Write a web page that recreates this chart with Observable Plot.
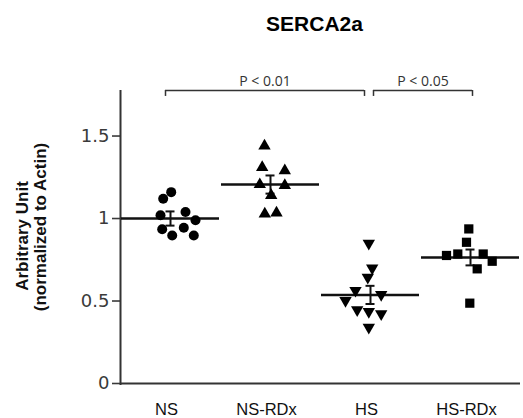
<!DOCTYPE html>
<html><head><meta charset="utf-8">
<script src="https://cdn.jsdelivr.net/npm/d3@7"></script>
<script src="https://cdn.jsdelivr.net/npm/@observablehq/plot@0.6"></script>
<style>html,body{margin:0;padding:0;background:#fff}</style>
</head><body><div id="chart"></div>
<script>
const title = "SERCA2a";
const yLabel1 = "Arbitrary Unit";
const yLabel2 = "(normalized to Actin)";
const groups = ["NS", "NS-RDx", "HS", "HS-RDx"];
const symbols = ["circle", "triangle", "triangle", "square"];
const nsValues = [1.16, 1.12, 1.02, 1.04, 0.99, 0.935, 0.944, 0.897, 0.897];
const nsJitter = [0.007, -0.073, -0.10, 0.15, 0.25, -0.083, 0.133, 0.017, 0.233];
const nsRdxValues = [1.44, 1.31, 1.29, 1.206, 1.20, 1.14, 1.028, 1.034];
const nsRdxJitter = [-0.06, -0.083, 0.143, -0.107, 0.143, 0.007, -0.057, 0.06];
const hsValues = [0.85, 0.70, 0.644, 0.564, 0.539, 0.503, 0.447, 0.436, 0.422, 0.341];
const hsJitter = [-0.017, 0.017, -0.027, -0.15, 0.107, -0.25, -0.133, -0.017, 0.107, -0.017];
const hsRdxValues = [0.937, 0.856, 0.776, 0.785, 0.785, 0.741, 0.695, 0.487];
const hsRdxJitter = [-0.017, -0.04, -0.24, -0.127, 0.127, 0.217, 0.067, -0.007];
const means = [1.0, 1.206, 0.537, 0.764];
const sems = [0.043, 0.055, 0.055, 0.048];
const yTicks = [0, 0.5, 1, 1.5];
const yTickLabels = ["0", "0.5", "1", "1.5"];
const pLeft = ["NS", "HS"];
const pRight = ["HS", "HS-RDx"];
const pText = ["P < 0.01", "P < 0.05"];
const yMax = 1.776;

const valueSets = [nsValues, nsRdxValues, hsValues, hsRdxValues];
const jitterSets = [nsJitter, nsRdxJitter, hsJitter, hsRdxJitter];
const points = [];
valueSets.forEach((vals, g) => vals.forEach((v, k) =>
  points.push({group: groups[g], gi: g + 1, x: g + 1 + jitterSets[g][k], y: v})));
const summary = groups.map((g, i) => ({group: g, gi: i + 1, mean: means[i], sem: sems[i]}));
const gIndex = name => groups.indexOf(name) + 1;
const brackets = pText.map((t, k) => ({
  text: t,
  x1: gIndex(pLeft[k]) + (k === 0 ? -0.05 : 0.03),
  x2: gIndex(pRight[k]) + (k === 0 ? -0.06 : 0.02),
  y: yMax
}));
const tickDrop = 0.036;
const ink = "#111";
const axisInk = "#333";

const dotMarks = groups.map((g, i) => Plot.dot(points.filter(d => d.group === g), {
  x: "x", y: "y",
  symbol: symbols[i],
  r: i === 0 ? 5 : i === 3 ? 5.2 : 4.6,
  rotate: g === "HS" ? 180 : 0,
  fill: "#000", stroke: "none"
}));

const chart = Plot.plot({
  width: 523, height: 418,
  marginLeft: 120, marginRight: 3, marginTop: 90, marginBottom: 35,
  x: {domain: [0.5, 4.5], axis: null},
  y: {domain: [0, yMax], axis: null},
  style: {background: "#fff", color: ink},
  marks: [
    Plot.axisY({ticks: yTicks, tickFormat: d => yTickLabels[yTicks.indexOf(d)],
      tickSize: 8, tickPadding: 3, fontSize: 18, fontFamily: "DejaVu Sans",
      color: "#3a3a3a", strokeWidth: 1.6, label: null}),
    Plot.axisX({ticks: [1, 2, 3, 4], tickFormat: d => groups[d - 1],
      tickSize: 0, tickPadding: 20, fontSize: 16.5, fontFamily: "Liberation Sans",
      color: ink, dx: -4, label: null}),
    Plot.ruleX([0.5], {y1: -0.012, y2: yMax, stroke: axisInk, strokeWidth: 2}),
    Plot.ruleY([0], {x1: 0.5, x2: 4.5, stroke: axisInk, strokeWidth: 2}),
    Plot.ruleY(summary, {y: "mean", x1: d => d.gi - 0.49, x2: d => d.gi + 0.49, stroke: ink, strokeWidth: 2.5}),
    Plot.ruleX(summary, {x: "gi", y1: d => d.mean - d.sem, y2: d => d.mean + d.sem, stroke: ink, strokeWidth: 2}),
    Plot.ruleY(summary, {y: d => d.mean + d.sem, x1: d => d.gi - 0.045, x2: d => d.gi + 0.045, stroke: ink, strokeWidth: 2}),
    Plot.ruleY(summary, {y: d => d.mean - d.sem, x1: d => d.gi - 0.045, x2: d => d.gi + 0.045, stroke: ink, strokeWidth: 2}),
    ...dotMarks,
    Plot.ruleY(brackets, {y: "y", x1: "x1", x2: "x2", stroke: axisInk, strokeWidth: 1.5}),
    Plot.ruleX(brackets, {x: "x1", y1: "y", y2: d => d.y - tickDrop, stroke: axisInk, strokeWidth: 1.5}),
    Plot.ruleX(brackets, {x: "x2", y1: "y", y2: d => d.y - tickDrop, stroke: axisInk, strokeWidth: 1.5}),
    Plot.text(brackets, {x: d => (d.x1 + d.x2) / 2, y: "y", text: "text", lineAnchor: "bottom", dy: -5,
      fontSize: 14, fontFamily: "Open Sans", fill: "#333"}),
    Plot.text([title], {frameAnchor: "top", lineAnchor: "bottom", dy: -60, dx: -6,
      fontSize: 21, fontWeight: "bold", fontFamily: "Liberation Sans", fill: "#000"}),
    Plot.text([yLabel1], {frameAnchor: "left", textAnchor: "middle", rotate: -90, dx: -98, dy: -1, lineAnchor: "middle",
      fontSize: 17, fontWeight: "bold", fontFamily: "Liberation Sans", fill: ink}),
    Plot.text([yLabel2], {frameAnchor: "left", textAnchor: "middle", rotate: -90, dx: -80, dy: -10, lineAnchor: "middle",
      fontSize: 17, fontWeight: "bold", fontFamily: "Liberation Sans", fill: ink})
  ]
});
document.getElementById("chart").append(chart);
</script>
</body></html>
